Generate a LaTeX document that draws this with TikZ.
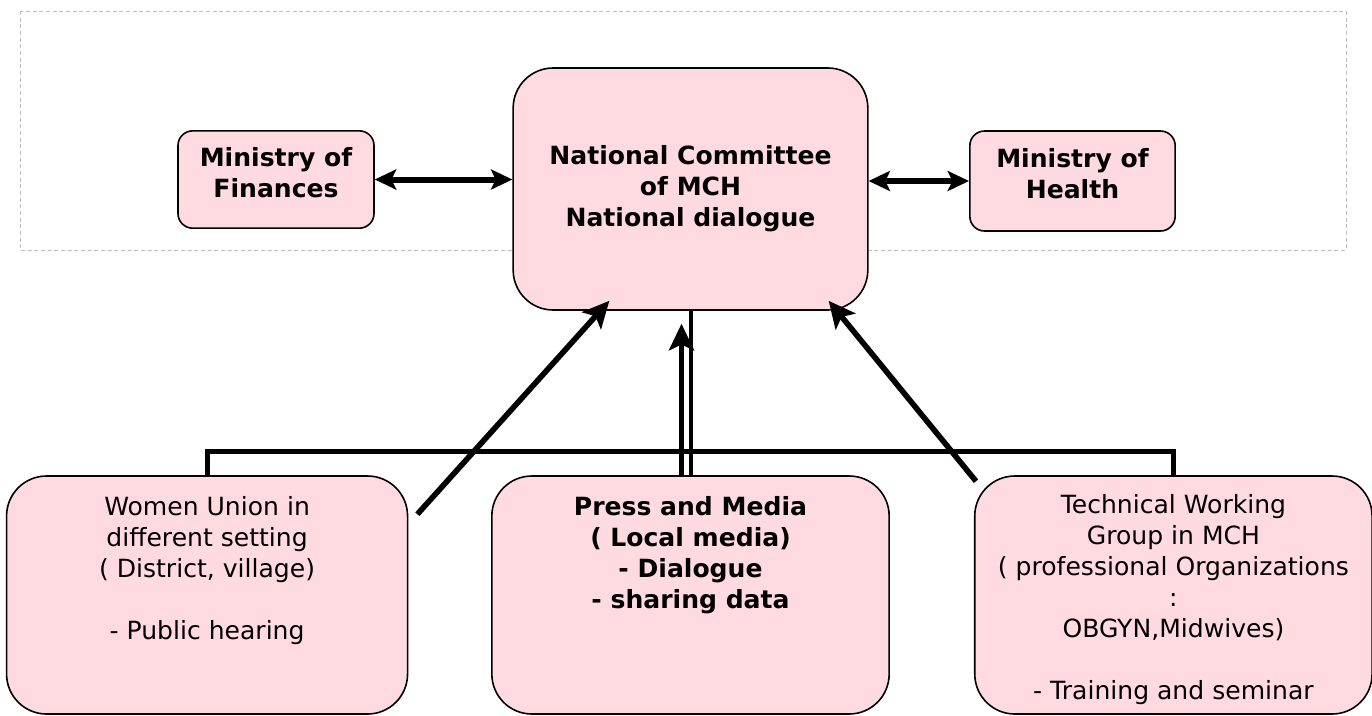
\documentclass[tikz,border=0pt]{standalone}
\usepackage{fontspec}
\setmainfont{DejaVu Sans}
\usetikzlibrary{arrows.meta,calc,positioning}
\definecolor{boxpink}{RGB}{255,218,224}
\definecolor{framegray}{RGB}{190,190,190}

\begin{document}
\begin{tikzpicture}[x=0.75pt,y=-0.75pt,
    box/.style={draw,fill=boxpink,line width=1.2pt,inner sep=0pt},
    smallbox/.style={box,rounded corners=11pt,minimum height=73pt},
    bigbox/.style={box,rounded corners=30pt,minimum width=298pt,minimum height=178.5pt},
    txt/.style={align=center,inner sep=0pt,font=\fontsize{18.8}{23.2}\selectfont},
    boldtxt/.style={txt,font=\fontsize{18.8}{23.2}\selectfont\bfseries},
    dbl/.style={{Stealth[length=16pt,width=15pt,inset=3.5pt]}-{Stealth[length=16pt,width=15pt,inset=3.5pt]},line width=4.5pt},
    up/.style={-{Stealth[length=20pt,width=19pt,inset=4.5pt]},line width=4.2pt},
    link/.style={line width=3.75pt}]

\useasboundingbox (0,0) rectangle (1372,715);
\draw[framegray,dash pattern=on 3pt off 2pt,line width=0.75pt] (20,11) rectangle (1346,250);

% national level
\node[box,boldtxt,rounded corners=30pt,minimum width=266pt,minimum height=181.5pt] (comm) at (690.5,189)
    {National Committee\\of MCH\\National dialogue};
\node[smallbox,minimum width=147pt] (fin) at (276,179.5) {};
\node[smallbox,minimum width=154pt,minimum height=75pt] (health) at (1072.5,181) {};
\node[boldtxt,anchor=north] (fintxt) at ($(fin.north)+(0,17)$) {Ministry of\\Finances};
\node[boldtxt,anchor=north] (healthtxt) at ($(health.north)+(0,18)$) {Ministry of\\Health};

% local level
\node[bigbox] (press) at (690.5,595) {};
\node[bigbox,minimum width=300.75pt] (women) [left=62pt of press] {};
\node[bigbox] (twg) [right=63pt of press] {};
\node[txt,anchor=north] (womentxt) at ($(women.north)+(0,21)$)
    {Women Union in\\different setting\\( District, village)\\ \\- Public hearing};
\node[boldtxt,anchor=north] (presstxt) at ($(press.north)+(0,21)$)
    {Press and Media\\( Local media)\\- Dialogue\\- sharing data};
\node[txt,anchor=north] (twgtxt) at ($(twg.north)+(0,19)$)
    {Technical Working\\Group in MCH\\( professional Organizations\\:\\OBGYN,Midwives)\\ \\- Training and seminar};

% links
\draw[dbl] (fin.east) -- (fin.east -| comm.west);
\draw[dbl] (comm.east |- health.west) -- (health.west);
\draw[link] (women.north) -- ++(0,-24) -| (twg.north);
\draw[link,line width=3pt] (comm.south) -- (press.north);
\draw[up,line width=3.2pt] ($(press.north)+(-9,0)$) -- ($(comm.south)+(-9,13)$);
\draw[up] ($(women.north east)+(9,39)$) -- ($(comm.south west)+(97,-10)$);
\draw[up] ($(twg.north west)+(2,6)$) -- ($(comm.south east)+(-40,-10)$);
\end{tikzpicture}
\end{document}
